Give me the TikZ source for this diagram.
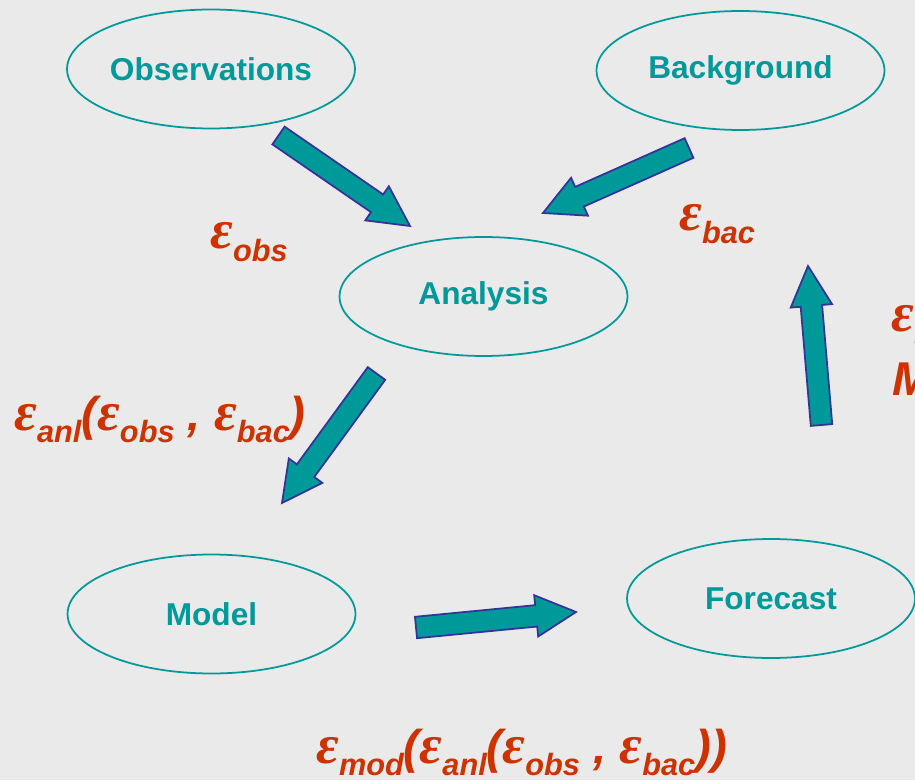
\documentclass[tikz,border=0pt]{standalone}
\usepackage{fontspec}
\setmainfont{Liberation Sans}
\newfontfamily\epsfont{Liberation Serif}
\usetikzlibrary{calc,shapes.geometric}

\definecolor{bgcol}{RGB}{234,234,234}
\definecolor{tealc}{RGB}{0,153,153}
\definecolor{arrowline}{RGB}{51,51,153}
\definecolor{errred}{RGB}{204,51,0}

% bold italic epsilon with a lowered bold-italic subscript
\newcommand\epsub[1]{{\epsfont\fontsize{31.5}{34}\selectfont\bfseries\itshape ε}\raisebox{-7.2pt}{\fontsize{17.5}{20}\selectfont\bfseries\itshape #1}}

% broad block arrow from a tail point to a tip point
\newcommand\blockarrow[2]{%
  \coordinate (ba-base) at ($(#2)!0.8cm!(#1)$);
  \draw[blockarrowstyle]
    ($(#1)!0.215cm!90:(#2)$) -- ($(ba-base)!0.215cm!90:(#2)$) --
    ($(ba-base)!0.415cm!90:(#2)$) -- (#2) --
    ($(ba-base)!0.415cm!-90:(#2)$) -- ($(ba-base)!0.215cm!-90:(#2)$) --
    ($(#1)!0.215cm!-90:(#2)$) -- cycle;}

\tikzset{
  stage/.style={ellipse, draw=tealc, line width=1pt, minimum width=5.76cm,
    minimum height=2.38cm, inner sep=0pt, text=tealc,
    font=\fontsize{18}{20}\selectfont\bfseries},
  blockarrowstyle/.style={fill=tealc, draw=arrowline, line width=1pt, line join=miter},
  errlabel/.style={inner sep=0pt, anchor=base west, text=errred,
    font=\fontsize{27}{30}\selectfont\bfseries\itshape},
}

\begin{document}
\begin{tikzpicture}[x=0.02cm, y=-0.02cm]
  \fill[bgcol] (0,0) rectangle (915,780);
  \useasboundingbox (0,0) rectangle (915,780);
  \clip (0,0) rectangle (915,780);

  % stages of the cycle
  \node[stage] (obs) at (211,69) {Observations};
  \node[stage] (bac) at (740.5,70.5) {Background};
  \node[stage] (anl) at (483.5,296.5) {Analysis};
  \node[stage] (mod) at (211.5,614) {Model};
  \node[stage] (fct) at (771,598.5) {Forecast};

  % arrow end points
  \coordinate (t1) at (278.5,135.5); \coordinate (p1) at (410,226);
  \coordinate (t2) at (689,148);     \coordinate (p2) at (543,213);
  \coordinate (t3) at (376.5,373.5); \coordinate (p3) at (282,503);
  \coordinate (t4) at (416,627.5);   \coordinate (p4) at (576,612);
  \coordinate (t5) at (821.5,425);   \coordinate (p5) at (808,266);

  \blockarrow{t1}{p1}
  \blockarrow{t2}{p2}
  \blockarrow{t3}{p3}
  \blockarrow{t4}{p4}
  \blockarrow{t5}{p5}

  % error labels
  \node[errlabel] (eobs) at (210,249) {\epsub{obs}};
  \node[errlabel] (ebac) at (679,231) {\epsub{bac}};
  \node[errlabel] (eanl) at (14,430) {\epsub{anl}(\epsub{obs} , \epsub{bac})};
  \node[errlabel] (emod) at (316,763) {\epsub{mod}(\epsub{anl}(\epsub{obs} , \epsub{bac}))};
  \node[errlabel] (efct) at (891,331) {\epsub{mod}};
  \node[errlabel] (mtxt) at (892,395) {Model};
\end{tikzpicture}
\end{document}
